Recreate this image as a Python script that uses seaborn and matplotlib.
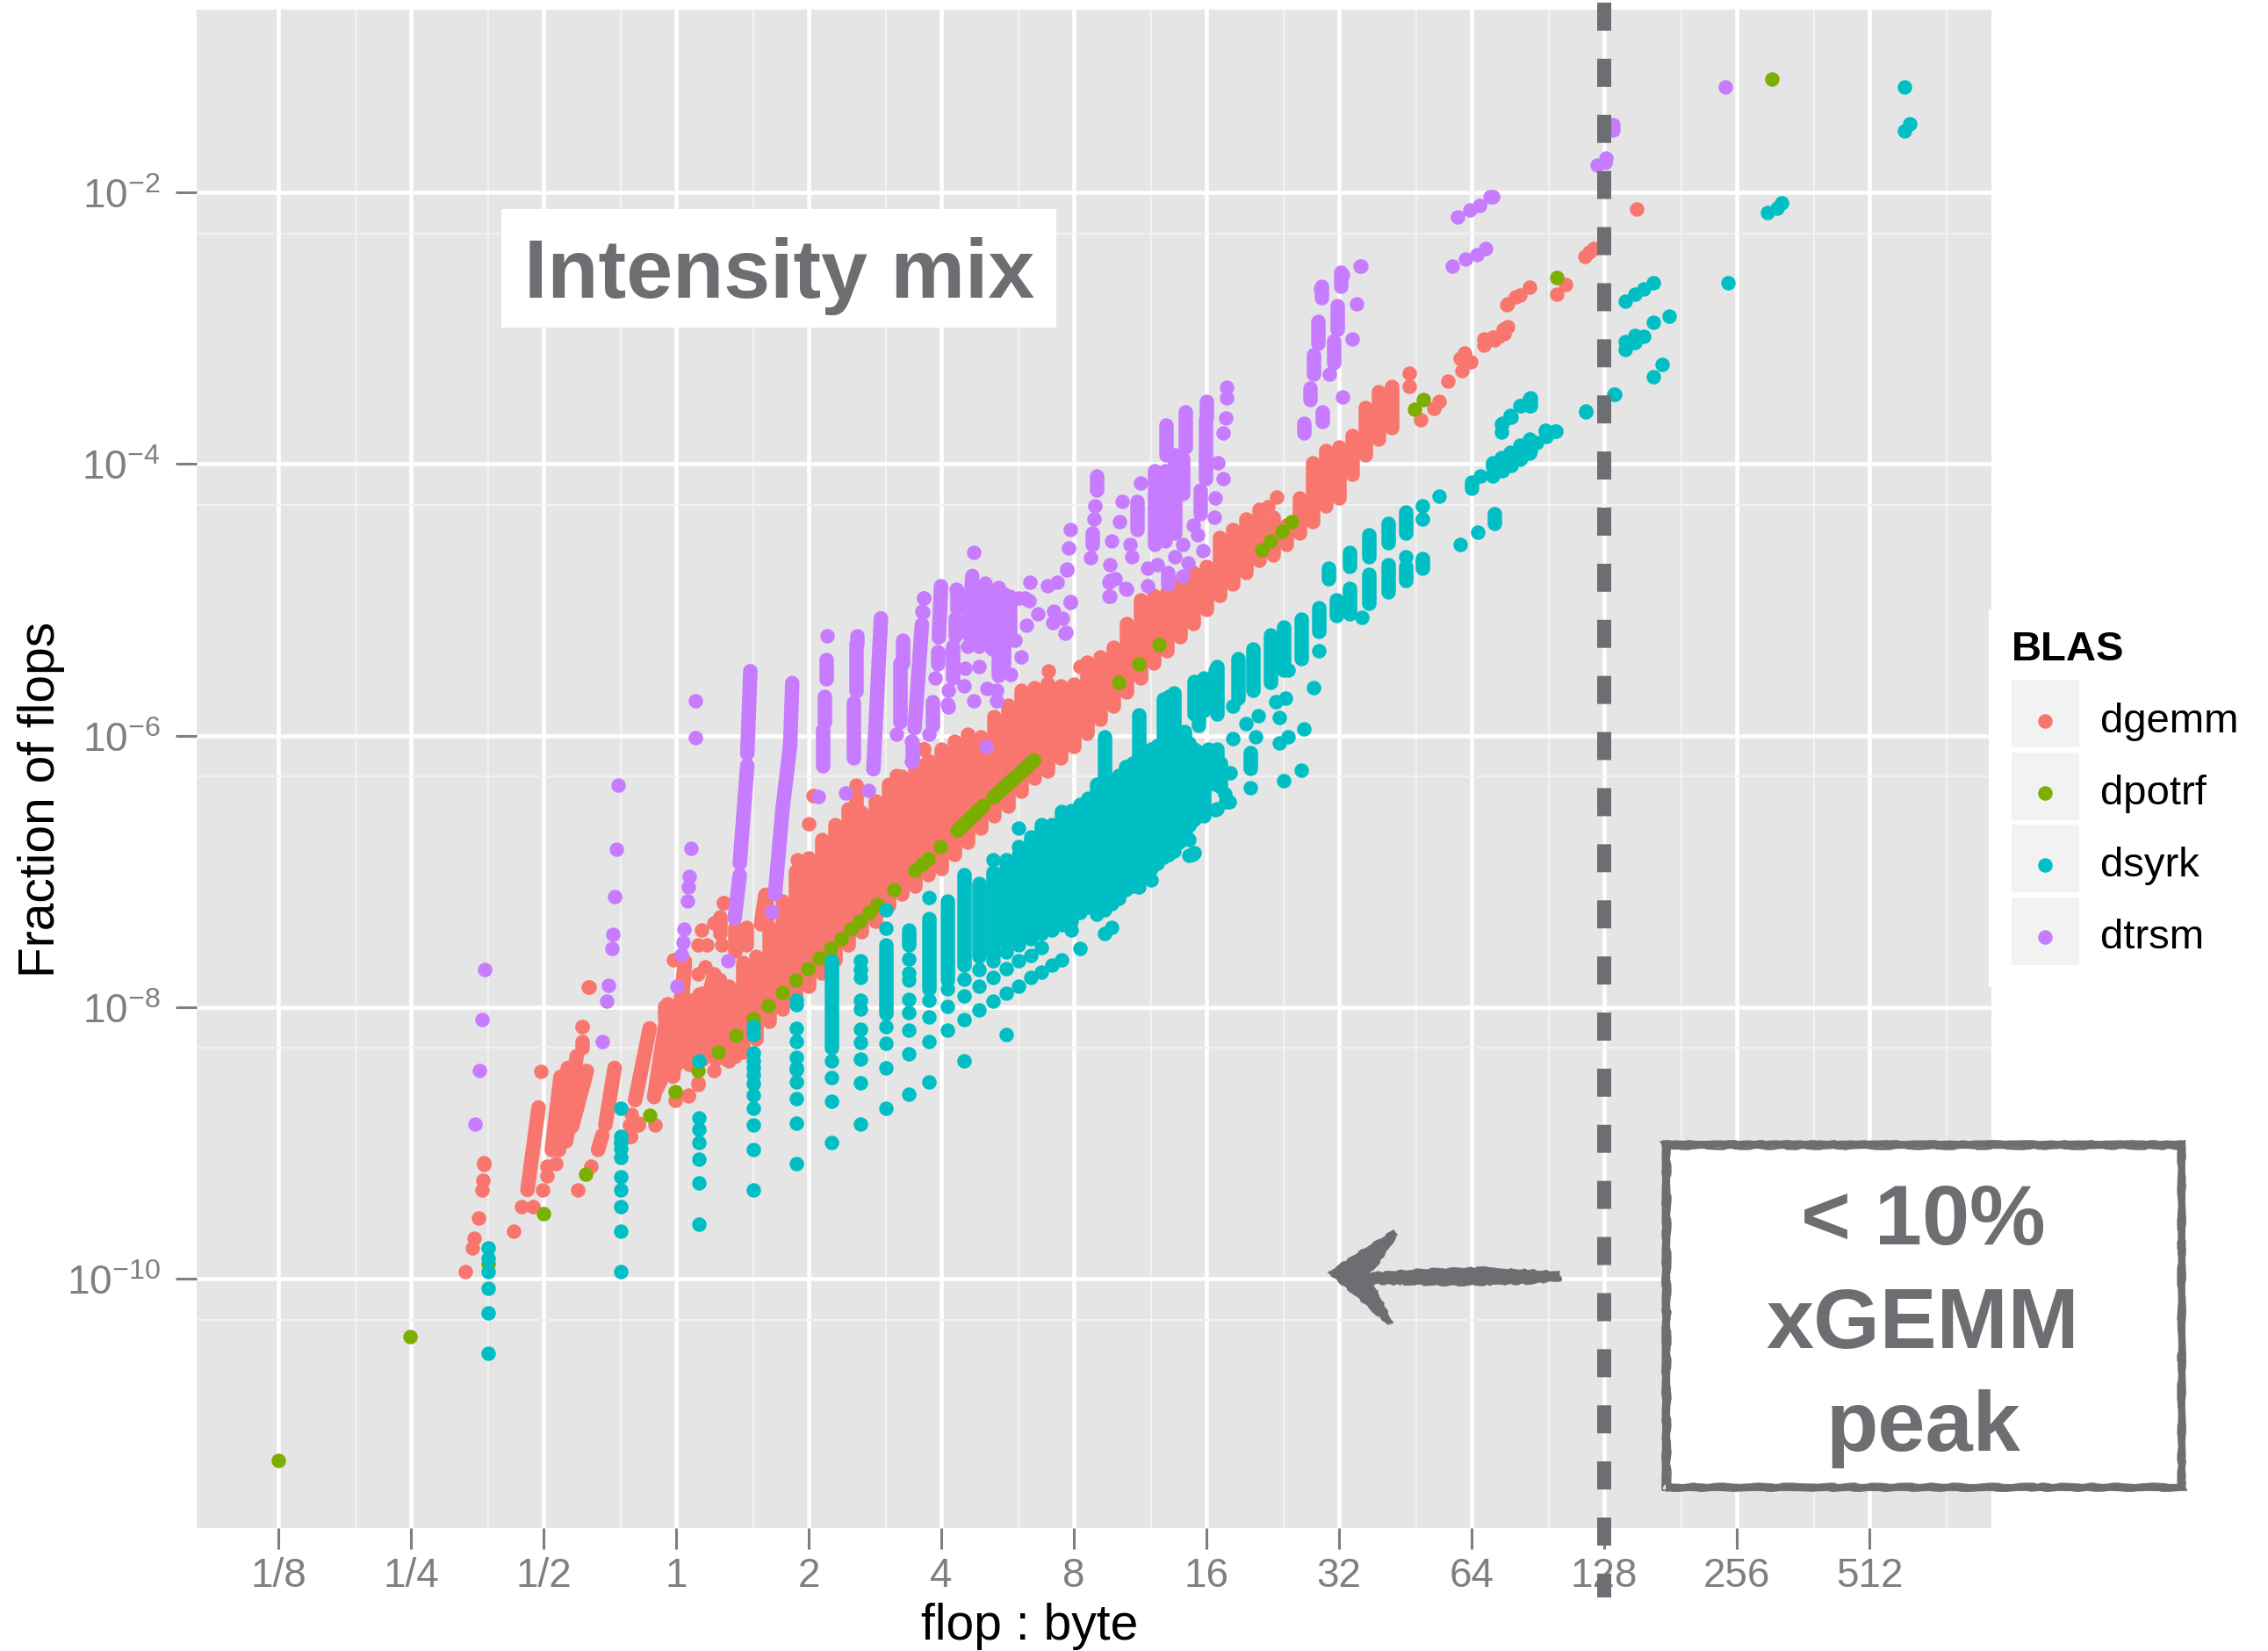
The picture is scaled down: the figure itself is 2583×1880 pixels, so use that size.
import numpy as np
import pandas as pd
import matplotlib
matplotlib.use("Agg")
import matplotlib.pyplot as plt
from matplotlib.patches import Rectangle, Polygon
from matplotlib.transforms import blended_transform_factory
import seaborn as sns

# ---------- data: log2(flop:byte), log10(fraction of flops) ----------
series_names = ["dgemm", "dpotrf", "dsyrk", "dtrsm"]
series_colors = ["#F8766D", "#7CAE00", "#00BFC4", "#C77CFF"]
x_tick_labels = ["1/8", "1/4", "1/2", "1", "2", "4", "8", "16", "32", "64", "128", "256", "512"]
x_tick_values = [0.125, 0.25, 0.5, 1, 2, 4, 8, 16, 32, 64, 128, 256, 512]
y_tick_exponents = [-2, -4, -6, -8, -10]

# dense dgemm band: log2 x, upper and lower log10 y
dgemm_band = [
 (0.0,-7.99,-8.42),(0.1,-7.95,-8.42),(0.2,-7.9,-8.38),(0.3,-7.8,-8.38),(0.4,-7.843,-8.393),(0.5,-7.67,-8.328),
 (0.6,-7.627,-8.231),(0.7,-7.412,-8.102),(0.8,-7.22,-8.015),(0.9,-7.0,-7.94),(1.0,-6.9,-7.843),(1.1,-6.768,-7.746),
 (1.2,-6.653,-7.65),(1.3,-6.537,-7.541),(1.4,-6.566,-7.444),(1.5,-6.48,-7.368),(1.6,-6.356,-7.25),(1.7,-6.302,-7.164),
 (1.8,-6.226,-7.11),(1.9,-6.183,-7.024),(2.0,-6.097,-6.981),(2.1,-6.043,-6.873),(2.2,-5.989,-6.787),(2.3,-6.011,-6.679),
 (2.4,-5.86,-6.593),(2.5,-5.774,-6.517),(2.6,-5.666,-6.41),(2.7,-5.644,-6.313),(2.8,-5.612,-6.259),(2.9,-5.633,-6.162),
 (3.0,-5.62,-6.083),(3.1,-5.462,-5.982),(3.2,-5.419,-5.881),(3.3,-5.347,-5.78),(3.4,-5.174,-5.679),(3.5,-5.0,-5.578),
 (3.6,-4.971,-5.463),(3.7,-4.943,-5.376),(3.8,-4.87,-5.275),(3.9,-4.798,-5.174),(4.0,-4.755,-5.073),(4.1,-4.538,-4.971),
 (4.2,-4.481,-4.885),(4.3,-4.408,-4.798),(4.4,-4.336,-4.711),(4.5,-4.394,-4.668),(4.6,-4.452,-4.596),(4.7,-4.25,-4.509),
 (4.8,-3.99,-4.423),(4.9,-3.903,-4.307),(5.0,-3.874,-4.25),(5.1,-3.788,-4.076),(5.2,-3.585,-3.932),(5.3,-3.47,-3.816),
 (5.4,-3.427,-3.73),
]
# steep runs of overlapping dgemm points: x0, y0, x1, y1
dgemm_runs = [
 (-1.121,-9.346,-1.037,-8.738),(-0.938,-9.051,-0.872,-8.512),(-0.883,-9.051,-0.817,-8.447),(-0.828,-8.986,-0.75,-8.361),
 (-0.784,-8.878,-0.673,-8.469),(-0.589,-9.051,-0.556,-8.943),(-0.534,-8.868,-0.464,-8.447),(-0.711,-8.253,-0.711,-8.296),
 (-0.309,-8.684,-0.199,-8.155),(-0.166,-8.662,-0.077,-8.101),(-0.143,-8.597,0.177,-7.907),(0.0,-8.425,0.331,-7.8),
 (0.155,-8.425,0.353,-7.843),(0.133,-8.382,0.287,-7.757),(-0.022,-8.512,0.066,-7.66),(0.066,-7.692,0.044,-7.951),
 (0.331,-7.336,0.331,-7.455),(0.441,-7.412,0.441,-7.584),(0.53,-7.412,0.53,-7.541),(0.673,-7.174,0.64,-7.39),
 (0.678,-7.172,0.689,-7.346),(1.355,-6.364,1.355,-6.537),(-0.088,-7.994,-0.088,-8.08),
]
dgemm_lx = [-1.592,-1.539,-1.523,-1.492,-1.466,-1.459,-1.452,-1.452,-1.227,-1.163,-1.082,-1.009,-0.971,-0.971,-0.905,-1.022,
 -0.711,-0.656,-0.744,-0.645,-0.338,-0.353,-0.287,-0.342,-0.159,-0.007,0.095,0.166,0.283,0.166,0.093,-0.342,-0.287,0.375,0.441,0.486,0.408,
 0.36,0.287,0.192,0.166,0.232,0.342,-0.022,0.221,0.166,0.276,-0.066,-0.066,1.0,1.031,1.126,0.917,1.868,1.849,1.659,2.81,0.355,-0.66,-0.706,
 1.865,3.046,3.4,3.3,4.531,4.466,5.398,5.531,5.531,5.615,5.714,5.752,5.824,5.93,5.994,5.911,5.949,6.09,6.09,6.158,6.254,6.272,6.17,6.205,
 6.246,6.239,6.273,6.268,6.33,6.364,6.44,6.64,6.711,6.855,6.889,6.923,7.245]
dgemm_ly = [-9.946,-9.773,-9.704,-9.553,-9.346,-9.273,-9.16,-9.148,-9.65,-9.467,-9.467,-9.346,-9.245,-9.17,-9.154,-8.473,
 -8.145,-7.852,-9.346,-9.169,-8.792,-8.867,-8.867,-8.954,-8.867,-8.689,-8.652,-8.572,-8.468,-8.554,-8.647,-8.953,-8.856,-8.382,-8.36,-8.296,-8.339,
 -7.228,-7.379,-7.429,-7.541,-7.541,-7.541,-7.649,-7.703,-7.757,-7.778,-7.972,-8.058,-6.647,-6.445,-6.783,-6.912,-6.098,-6.22,-6.292,-5.526,-7.23,-7.851,-8.14,
 -6.097,-5.493,-5.5,-5.4,-4.241,-4.313,-3.695,-3.334,-3.427,-3.672,-3.591,-3.542,-3.392,-3.311,-3.245,-3.224,-3.181,-3.123,-3.08,-3.066,-3.0,-2.82,-3.085,-3.063,
 -3.041,-3.007,-2.992,-2.825,-2.769,-2.756,-2.7,-2.747,-2.682,-2.469,-2.44,-2.413,-2.126]

dpotrf_lx = [-3,-2.009,-1.42,-1,-0.684,-0.42,-0.199,-0.007,0.166,0.316,0.453,0.581,0.695,0.8,0.903,0.993,1.082,1.163,1.243,1.318,1.386,1.457,1.519,1.64,
 1.803,1.854,1.903,1.993,3.34,3.488,3.642,4.417,4.485,4.569,4.641,5.569,5.638,6.642,8.266]
dpotrf_ly = [-11.334,-10.426,-9.892,-9.521,-9.23,-8.99,-8.796,-8.62,-8.464,-8.33,-8.209,-8.086,-7.987,-7.89,-7.8,-7.718,-7.638,-7.567,-7.494,-7.427,-7.368,-7.304,-7.243,-7.131,
 -6.992,-6.949,-6.905,-6.815,-5.607,-5.47,-5.329,-4.634,-4.567,-4.495,-4.426,-3.594,-3.525,-2.624,-1.163]
dpotrf_runs = [(2.123,-6.7,2.318,-6.517),(2.395,-6.453,2.70,-6.183)]

# dsyrk: flop:byte ratios come in steps of 3/8; isolated log10 y on each ratio
dsyrk_columns = {
 0.375:[-9.773,-9.849,-9.946,-10.068,-10.252,-10.549],
 0.75:[-8.742,-8.953,-8.996,-9.04,-9.104,-9.249,-9.343,-9.469,-9.647,-9.945],
 1.125:[-8.393,-8.813,-8.899,-8.996,-9.119,-9.294,-9.598],
 1.5:[-8.145,-8.2,-8.339,-8.393,-8.447,-8.5,-8.565,-8.647,-8.744,-8.867,-9.046,-9.346],
 1.875:[-7.951,-7.983,-8.155,-8.252,-8.371,-8.447,-8.457,-8.55,-8.673,-8.852,-9.149],
 2.25:[-8.397,-8.52,-8.694,-8.996],
 2.625:[-7.66,-7.724,-7.778,-7.951,-8.015,-8.162,-8.259,-8.382,-8.559,-8.86],
 3.0:[-7.282,-7.419,-8.14,-8.265,-8.446,-8.744],
 3.375:[-7.644,-7.746,-7.8,-7.94,-8.041,-8.166,-8.343,-8.64],
 3.75:[-7.192,-7.951,-8.073,-8.252,-8.55],
 4.125:[-7.864,-7.994,-8.166],
 4.5:[-7.795,-7.916,-8.093,-8.395],
 4.875:[-7.724,-7.847,-8.02],
 5.25:[-6.916,-7.66,-7.782,-7.955],
 5.625:[-7.595,-7.718,-7.899,-8.199],
 6.0:[-6.679,-6.819,-7.66,-7.847],
 6.375:[-7.617,-7.783],
 6.75:[-7.563,-7.739],
 7.125:[-7.692],
 7.5:[-7.649],
 7.875:[-7.43],
 8.25:[-7.567],
 9.375:[-7.455],
 9.75:[-7.412],
 12.0:[-7.061],
 11.25:[-7.117],
 14.625:[-6.765,-6.884],
 15.0:[-6.862],
 16.875:[-6.539],
 17.625:[-6.431],
 18.0:[-6.485],
}
# dsyrk dense stacks: ratio, upper and lower log10 y
dsyrk_stacks = [
 (2.25,-7.66,-8.295),(3.0,-7.541,-8.048),(3.375,-7.433,-7.541),(3.75,-7.347,-7.864),(4.125,-7.218,-7.8),(4.5,-7.024,-7.69),
 (4.875,-7.089,-7.627),(5.25,-7.003,-7.628),(5.625,-6.916,-7.52),(6.0,-6.873,-7.541),(6.375,-6.744,-7.498),(6.75,-6.657,-7.455),
 (7.125,-6.657,-7.434),(7.5,-6.56,-7.391),(7.875,-6.55,-7.369),(8.25,-6.507,-7.304),(8.625,-6.463,-7.261),(9.0,-6.356,-7.315),
 (9.375,-6.011,-7.283),(9.75,-6.334,-7.24),(10.125,-6.291,-7.197),(10.5,-6.226,-7.132),(10.875,-6.205,-7.11),(11.25,-5.849,-7.067),
 (11.625,-6.162,-7.0),(12.0,-6.097,-6.981),(12.375,-6.075,-6.938),(12.75,-5.73,-6.895),(13.125,-5.709,-6.873),(13.5,-5.687,-6.852),
 (13.875,-5.968,-6.787),(14.25,-5.968,-6.722),(14.625,-6.054,-6.66),(15.0,-5.601,-5.838),(15.0,-6.097,-6.614),(15.375,-5.623,-5.924),
 (15.375,-6.118,-6.593),(15.75,-5.579,-5.817),(15.75,-6.183,-6.593),(16.125,-6.097,-6.291),(16.875,-5.493,-5.838),(16.875,-6.1,-6.25),
 (17.25,-6.2,-6.38),
]
dsyrk_runs = [
 (4.067,-5.52,4.067,-5.751),(4.238,-5.434,4.238,-5.722),(4.352,-5.361,4.352,-5.665),(4.485,-5.26,4.485,-5.607),(4.58,-5.203,4.58,-5.52),
 (4.714,-5.145,4.714,-5.434),(4.333,-6.127,4.333,-6.242),(4.847,-5.058,4.847,-5.231),(4.98,-5.0,4.98,-5.116),(5.082,-4.914,5.082,-5.101),
 (4.923,-4.769,4.923,-4.842),(5.082,-4.654,5.082,-4.755),(5.227,-4.524,5.227,-4.683),(5.227,-4.813,5.227,-5.029),(5.371,-4.437,5.371,-4.582),
 (5.371,-4.741,5.371,-4.943),(5.504,-4.351,5.504,-4.509),(5.504,-4.755,5.504,-4.856),(5.63,-4.697,5.63,-4.769),(6.17,-4.365,6.17,-4.437),
 (5.999,-4.177,5.999,-4.134),(6.158,-4.019,6.158,-3.99),(6.444,-3.831,6.444,-3.903),(6.444,-3.513,6.444,-3.571),
]
dsyrk_lx = [4.847,4.618,4.809,4.599,4.523,4.55,4.39,4.295,4.371,4.2,4.733,4.618,4.55,4.714,4.58,4.333,4.2,4.181,4.067,4.143,3.972,4.067,3.858,3.896,3.877,
 5.17,5.504,5.63,5.63,5.752,5.911,6.044,6.063,6.234,6.292,6.368,6.558,6.634,6.234,6.292,6.368,6.862,7.079,6.158,6.234,6.368,
 6.627,6.558,6.565,6.49,6.437,6.437,6.364,6.364,6.296,6.296,6.227,6.227,6.159,6.159,6.437,6.437,6.364,6.296,6.227,6.227,
 7.076,6.859,7.368,7.436,7.299,7.231,7.231,7.156,7.156,7.368,7.493,7.156,7.231,7.299,7.368,7.931,8.23,8.303,8.337,9.265,9.302,9.265]
dsyrk_ly = [-5.376,-5.52,-5.65,-5.722,-5.751,-5.867,-5.852,-5.91,-6.011,-5.78,-5.953,-6.011,-6.054,-6.257,-6.334,-6.386,-6.025,-6.271,-6.358,-6.488,-6.545,-6.545,-6.762,-6.877,-6.646,
 -5.13,-4.683,-4.307,-4.408,-4.235,-4.59,-4.504,-4.091,-3.961,-3.917,-3.874,-3.759,-3.759,-3.701,-3.643,-3.571,-3.614,-3.484,-4.076,-4.047,-3.961,
 -3.756,-3.754,-3.798,-3.843,-3.82,-3.92,-3.865,-3.965,-3.92,-4.01,-3.954,-4.043,-3.999,-4.088,-3.52,-3.571,-3.571,-3.653,-3.709,-3.765,
 -3.486,-3.613,-3.355,-3.268,-3.059,-3.052,-3.108,-3.097,-3.159,-2.958,-2.909,-2.8,-2.751,-2.714,-2.664,-2.669,-2.146,-2.117,-2.079,-1.221,-1.497,-1.546]

dtrsm_runs = [
 (0.56,-5.526,0.537,-6.133),(0.537,-6.22,0.48,-6.941),(0.48,-7.028,0.442,-7.346),
 (0.876,-5.613,0.86,-6.075),(0.86,-6.075,0.803,-6.537),(0.803,-6.537,0.746,-7.167),
 (1.134,-5.44,1.134,-5.584),(1.119,-5.714,1.119,-5.902),(1.108,-5.96,1.108,-6.22),
 (1.362,-5.267,1.362,-5.324),(1.355,-5.324,1.355,-5.671),(1.336,-5.757,1.336,-6.162),(1.545,-5.137,1.488,-6.248),
 (1.708,-5.295,1.708,-5.469),(1.689,-5.469,1.689,-5.902),(1.781,-6.046,1.781,-6.19),(1.854,-5.181,1.799,-5.946),
 (1.998,-4.9,1.982,-5.278),(1.976,-5.385,1.976,-5.472),(1.931,-5.752,1.931,-5.924),
 (2.119,-4.933,2.119,-5.062),(2.104,-5.137,2.104,-5.267),(2.086,-5.342,2.086,-5.579),(2.234,-4.825,2.207,-5.256),
 (2.285,-4.997,2.285,-5.342),(2.333,-4.879,2.333,-5.321),(2.384,-4.933,2.384,-5.364),(2.428,-4.911,2.428,-5.558),
 (2.472,-4.954,2.472,-5.472),(2.516,-4.976,2.516,-5.3),
 (3.174,-4.091,3.174,-4.192),(3.136,-4.509,3.136,-4.596),(3.478,-4.279,3.478,-4.48),
 (3.694,-3.715,3.694,-3.932),(3.839,-3.614,3.839,-3.874),(4.002,-3.542,4.002,-3.658),(3.995,-3.672,3.995,-4.105),
 (3.611,-4.047,3.611,-4.596),(3.687,-4.047,3.687,-4.567),(3.763,-3.932,3.763,-4.509),(3.82,-3.961,3.82,-4.221),
 (3.953,-4.192,3.953,-4.365),(3.706,-4.798,3.706,-4.885),
 (4.782,-3.441,4.782,-3.528),(4.733,-3.701,4.733,-3.773),(4.877,-3.614,4.877,-3.686),(4.809,-3.196,4.809,-3.34),
 (4.839,-2.95,4.839,-3.109),(4.961,-3.095,4.961,-3.253),(4.987,-2.835,4.987,-3.008),(4.866,-2.69,4.866,-2.777),(5.01,-2.589,5.01,-2.69),
]
dtrsm_lx = [-1.446,-1.464,-1.486,-1.519,-0.436,-0.448,-0.463,-0.478,-0.486,-0.508,-0.52,-0.558,0.149,0.146,0.111,0.1,0.092,0.085,0.062,0.054,0.039,0.009,0.389,
 0.724,1.07,1.279,1.45,1.138,1.659,1.868,1.857,2.248,2.115,2.077,2.051,1.865,1.861,1.953,1.909,1.777,1.777,2.053,2.048,2.196,2.181,2.17,
 2.583,2.627,2.664,2.726,2.644,2.556,2.605,2.523,2.285,2.344,2.417,2.417,2.245,2.671,2.803,2.874,2.947,2.976,2.847,2.914,2.841,2.936,2.335,
 3.267,3.267,3.399,3.311,2.972,2.961,2.945,2.972,2.938,3.158,3.151,3.124,3.269,3.288,3.269,3.269,3.394,3.44,3.421,3.345,3.364,3.504,
 4.155,4.155,4.143,4.124,4.086,4.124,4.067,4.06,3.934,3.82,3.763,3.858,3.972,3.63,3.554,3.82,3.554,3.9,
 4.93,5.025,5.101,5.132,5.158,5.024,5.166,4.861,
 5.853,5.951,6.038,6.103,5.896,5.984,6.06,6.136,
 6.159,6.946,7.007,7.014,7.067,7.067,7.915]
dtrsm_ly = [-7.72,-8.091,-8.469,-8.861,-6.364,-6.835,-7.187,-7.461,-7.565,-7.842,-7.958,-8.25,-5.743,-6.017,-6.832,-7.034,-7.115,-7.216,-7.427,-7.519,-7.614,-7.845,-7.655,
 -7.294,-6.45,-6.422,-6.401,-5.267,-5.988,-4.986,-5.087,-4.654,-4.92,-5.382,-5.786,-4.987,-5.088,-5.579,-5.989,-6.043,-6.19,-5.666,-5.773,-5.342,-5.504,-5.633,
 -4.987,-4.987,-5.004,-5.105,-5.187,-5.299,-5.418,-5.547,-5.493,-5.655,-5.666,-5.741,-5.741,-4.868,-4.9,-4.874,-4.777,-5.019,-5.084,-5.137,-5.17,-5.245,-6.08,
 -4.868,-4.976,-4.922,-4.846,-4.481,-4.616,-4.778,-5.015,-5.24,-4.307,-4.408,-4.689,-4.741,-4.567,-4.856,-4.977,-4.919,-4.683,-4.596,-4.423,-4.279,-4.143,
 -3.435,-3.513,-3.66,-3.773,-3.99,-4.105,-4.25,-4.394,-4.524,-4.596,-4.683,-4.726,-4.639,-4.741,-4.769,-4.827,-4.899,-4.45,
 -3.34,-3.508,-3.08,-2.82,-2.54,-2.607,-2.543,-2.714,
 -2.543,-2.49,-2.458,-2.416,-2.181,-2.128,-2.096,-2.032,
 -2.032,-1.8,-1.783,-1.749,-1.504,-1.538,-1.221]

# ---------- figure ----------
W, H = 2583, 1881
sns.set_theme(style="darkgrid")
plt.rcParams["font.family"] = ["Liberation Sans", "DejaVu Sans"]
plt.rcParams["mathtext.default"] = "regular"
plt.rcParams["axes.unicode_minus"] = False
fig = plt.figure(figsize=(W / 100, H / 100), dpi=100, facecolor="white")
L, R, T, B = 224, 2268, 12, 1741
ax = fig.add_axes([L / W, 1 - B / H, (R - L) / W, (B - T) / H], facecolor="#E5E5E5")
ANN = "#6D6E71"
DOT_PT = 16.5 * 0.72
DOT_S = DOT_PT ** 2


def frame(lx, ly):
    return pd.DataFrame({"ratio": 2.0 ** np.asarray(lx, float), "frac": 10.0 ** np.asarray(ly, float)})


def runs(seq, color, z):
    for x0, y0, x1, y1 in seq:
        ax.plot([2.0 ** x0, 2.0 ** x1], [10.0 ** y0, 10.0 ** y1], color=color, lw=DOT_PT,
                solid_capstyle="round", zorder=z)


def dots(df, color, name, z):
    sns.scatterplot(data=df, x="ratio", y="frac", color=color, s=DOT_S, linewidth=0, ax=ax,
                    zorder=z, label=name, legend=True)


ax.set_xscale("log", base=2)
ax.set_yscale("log")

z0 = 3
runs([(b[0], b[1], b[0], b[2]) for b in dgemm_band], series_colors[0], z0)
runs(dgemm_runs, series_colors[0], z0)
dots(frame(dgemm_lx, dgemm_ly), series_colors[0], series_names[0], z0)

runs(dpotrf_runs, series_colors[1], z0 + 1)
dots(frame(dpotrf_lx, dpotrf_ly), series_colors[1], series_names[1], z0 + 1)

runs([(np.log2(s[0]), s[1], np.log2(s[0]), s[2]) for s in dsyrk_stacks], series_colors[2], z0 + 2)
runs(dsyrk_runs, series_colors[2], z0 + 2)
col_lx = [np.log2(k) for k, v in dsyrk_columns.items() for _ in v] + dsyrk_lx
col_ly = [y for v in dsyrk_columns.values() for y in v] + dsyrk_ly
dots(frame(col_lx, col_ly), series_colors[2], series_names[2], z0 + 2)

runs(dtrsm_runs, series_colors[3], z0 + 3)
dots(frame(dtrsm_lx, dtrsm_ly), series_colors[3], series_names[3], z0 + 3)

# scales and grid
ax.set_xlim(2.0 ** (7 + (L - 1827) / 151), 2.0 ** (7 + (R - 1827) / 151))
ax.set_ylim(10.0 ** (-2 - (B - 220) / 154.65), 10.0 ** (-2 - (T - 220) / 154.65))
ax.set_xticks(x_tick_values)
ax.set_xticklabels(x_tick_labels)
ax.set_xticks([1.5 * v for v in x_tick_values], minor=True)
ax.set_xticklabels([], minor=True)
ax.set_yticks([10.0 ** e for e in y_tick_exponents])
ax.set_yticklabels([f"$10^{{{e}}}$" for e in y_tick_exponents])
ax.set_yticks([5 * 10.0 ** (e - 1) for e in [-2, -4, -6, -8, -10]], minor=True)
ax.set_yticklabels([], minor=True)
ax.grid(True, which="major", color="white", lw=3.3, zorder=1)
ax.grid(True, which="minor", color="#F2F2F2", lw=1.5, zorder=0.9)
ax.set_axisbelow(True)
ax.tick_params(axis="both", which="major", bottom=True, left=True, length=17, width=2.2, color="#7F7F7F",
               labelcolor="#7F7F7F", labelsize=33, pad=6)
ax.tick_params(axis="y", which="major", pad=13)
ax.tick_params(axis="both", which="minor", length=0)
for s in ax.spines.values():
    s.set_visible(False)
ax.set_xlabel("flop : byte", fontsize=41, color="black")
ax.xaxis.set_label_coords((1173 - L) / (R - L), (B - 1867) / (B - T))
ax.xaxis.label.set_verticalalignment("baseline")
ax.set_ylabel("Fraction of flops", fontsize=41, color="black")
ax.yaxis.set_label_coords((62 - L) / (R - L), (B - 910) / (B - T))
ax.yaxis.label.set_verticalalignment("baseline")


# legend
def fx(X):
    return X / W


def fy(Y):
    return 1 - Y / H


for top in (775, 858, 940, 1023):
    fig.add_artist(Rectangle((fx(2291), fy(top + 77)), 77 / W, 77 / H, transform=fig.transFigure,
                             facecolor="#F2F2F2", edgecolor="none", zorder=-1))
fig.add_artist(Rectangle((fx(2265), fy(1125)), 6 / W, 430 / H, transform=fig.transFigure,
                         facecolor="white", edgecolor="none", zorder=5))
handles, labels = ax.get_legend_handles_labels()
leg = ax.legend(handles, labels, title="BLAS", loc="upper left", bbox_to_anchor=(fx(2291), fy(718)),
                bbox_transform=fig.transFigure, frameon=False, fontsize=34, borderpad=0, borderaxespad=0,
                handlelength=1.63, handletextpad=0.5, labelspacing=0.805, scatterpoints=1, labelcolor="black",
                title_fontproperties={"weight": "bold", "size": 34})
leg.get_title().set_color("black")
leg._legend_box.align = "left"
leg.set_zorder(20)

# dashed peak marker at 128
blend = blended_transform_factory(ax.transData, fig.transFigure)
ax.plot([128, 128], [fy(4), fy(1820)], transform=blend, clip_on=False, color=ANN, lw=11.5,
        linestyle=(0, (2, 2)), dash_capstyle="butt", zorder=15)

# "Intensity mix" label
fig.add_artist(Rectangle((fx(571), fy(374)), 632 / W, 135 / H, transform=fig.transFigure,
                         facecolor="white", edgecolor="none", zorder=5))
fig.text(fx(888), fy(339), "Intensity mix", fontsize=68.5, fontweight="bold", color=ANN,
         ha="center", va="baseline", zorder=6)

# sketched call-out box
box = dict(transform=fig.transFigure, zorder=5)
fig.add_artist(Rectangle((fx(1896), fy(1696)), 590 / W, 393 / H, facecolor="white", edgecolor="none", **box))
for pad, lw, sc in ((1, 6, 0.35), (5, 2, 0.8), (-2, 1.2, 1.0)):
    r = Rectangle((fx(1896 + pad), fy(1696 - pad)), (590 - 2 * pad) / W, (393 - 2 * pad) / H,
                  facecolor="none", edgecolor=ANN, lw=lw, **box)
    r.set_sketch_params(scale=sc, length=160, randomness=30)
    fig.add_artist(r)
for txt, base in (("< 10%", 1417), ("xGEMM", 1535), ("peak", 1652)):
    fig.text(fx(2190), fy(base), txt, fontsize=70, fontweight="bold", color=ANN, ha="center",
             va="baseline", zorder=6)

# hand-drawn arrow
head = [(1512, 1450), (1550, 1425), (1587, 1402), (1592, 1407), (1570, 1440), (1558, 1452), (1568, 1470),
        (1586, 1507), (1581, 1510), (1550, 1482)]
shaft = [(1550, 1451), (1620, 1446), (1690, 1444), (1776, 1449), (1778, 1459), (1745, 1463), (1660, 1465), (1560, 1463)]
for pts in (head, shaft):
    p = Polygon([(fx(a), fy(b)) for a, b in pts], closed=True, transform=fig.transFigure, facecolor=ANN,
                edgecolor=ANN, lw=0.5, zorder=5)
    p.set_sketch_params(scale=0.8, length=60, randomness=20)
    fig.add_artist(p)

fig.savefig("out.png", dpi=100, facecolor="white")
